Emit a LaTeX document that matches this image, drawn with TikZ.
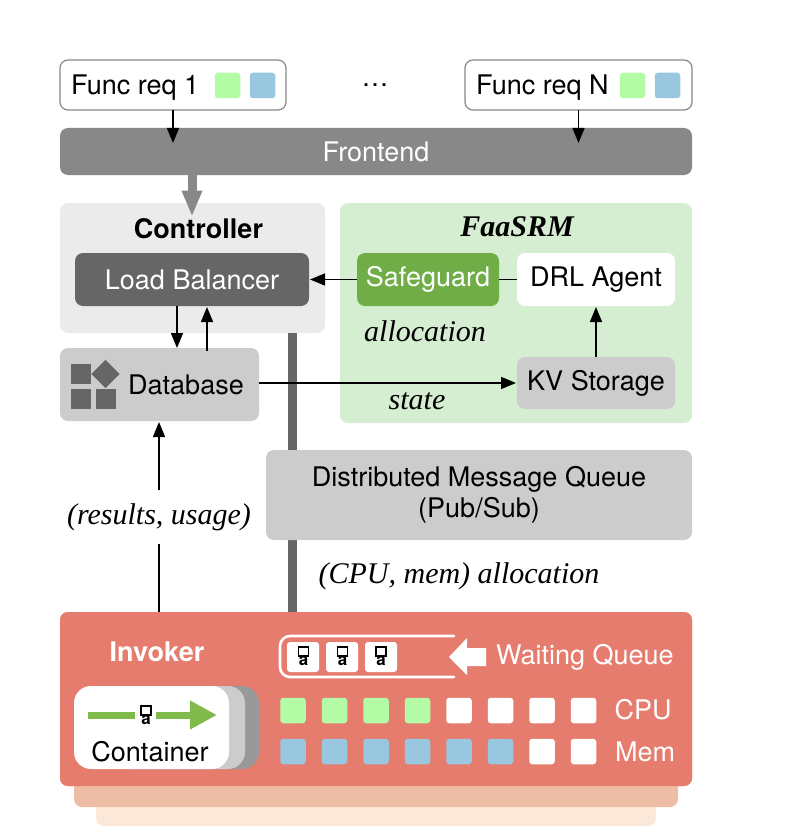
\documentclass[tikz,border=0pt]{standalone}
\usepackage{fontspec}
\setmainfont{TeX Gyre Heros}
\newfontfamily\timesfam{Liberation Serif}
\usetikzlibrary{arrows.meta,calc}
\definecolor{cFront}{HTML}{888888}
\definecolor{cDark}{HTML}{666666}
\definecolor{cGrey}{HTML}{CCCCCC}
\definecolor{cCtrl}{HTML}{EBEBEB}
\definecolor{cFaas}{HTML}{D5EDD0}
\definecolor{cSafe}{HTML}{70AD47}
\definecolor{cInv}{HTML}{E57C6E}
\definecolor{cLayA}{HTML}{EEBDA6}
\definecolor{cLayB}{HTML}{FBE8D8}
\definecolor{cGreen}{HTML}{B3FCA5}
\definecolor{cBlue}{HTML}{9AC7E0}
\definecolor{cArrowG}{HTML}{7FBA4A}
\definecolor{cEdge}{HTML}{888888}
\tikzset{
  plate/.style={inner sep=0pt,outer sep=0pt,rounded corners=8pt,font=\fontsize{27}{32}\selectfont,align=center},
  cell/.style={inner sep=0pt,outer sep=0pt,rounded corners=3pt,minimum width=25.5pt,minimum height=25.5pt},
  sans/.style={inner sep=0pt,font=\fontsize{27}{32}\selectfont,align=center},
  ital/.style={inner sep=0pt,font=\fontsize{30}{34}\selectfont\timesfam\itshape},
  thin arrow/.style={line width=1.5pt,-{Triangle[length=15pt,width=12pt]},shorten >=1pt},
  thin line/.style={line width=1.5pt},
}
% \plate{name}{x1}{y1}{x2}{y2}{style}{text}
\newcommand{\plate}[7]{%
  \pgfmathsetmacro{\cxv}{(#2+#4)/2}\pgfmathsetmacro{\cyv}{(#3+#5)/2}%
  \pgfmathsetmacro{\wv}{#4-#2}\pgfmathsetmacro{\hv}{#5-#3}%
  \node[plate,minimum width=\wv pt,minimum height=\hv pt,#6] (#1) at (\cxv,\cyv) {#7};}
% glyph used for a queued function
\newcommand{\fnglyph}[3]{%
  \node[draw=black,line width=1.4pt,inner sep=0pt,outer sep=0pt,minimum width=10pt,minimum height=9pt] (#3t) at (#1,#2-5.5) {};
  \node[inner sep=0pt,font=\bfseries\fontsize{17}{17}\selectfont] (#3a) at (#1,#2+3.5) {a};}
\begin{document}
\begin{tikzpicture}[x=1pt,y=-1pt]
\useasboundingbox (0,0) rectangle (810,840);
% top row
\plate{reqa}{60}{60}{286}{110}{draw=cEdge,line width=1.2pt,fill=white}{}
\node[sans,anchor=west] (reqat) at (71,88) {Func req 1};
\node[cell,fill=cGreen] (reqag) at (227.5,85.5) {};
\node[cell,fill=cBlue] (reqab) at (262.5,85.5) {};
\plate{reqn}{465}{60}{692}{110}{draw=cEdge,line width=1.2pt,fill=white}{}
\node[sans,anchor=west] (reqnt) at (476,88) {Func req N};
\node[cell,fill=cGreen] (reqng) at (632.5,85.5) {};
\node[cell,fill=cBlue] (reqnb) at (667.5,85.5) {};
\node[sans] (dots) at (375,85) {\ldots};
\plate{front}{60}{128}{692}{175}{fill=cFront,text=white}{Frontend}
\draw[thin arrow] (reqa.south) -- ++(0,34);
\draw[thin arrow] (reqn.south) -- ++(0,34);
% controller
\plate{ctrl}{60}{203}{325}{333}{fill=cCtrl}{}
\node[sans,font=\bfseries\fontsize{27}{32}\selectfont] (ctrlt) at (198.5,229) {Controller};
\plate{lb}{75}{253}{309}{306}{fill=cDark,text=white}{Load Balancer}
\draw[line width=9pt,cFront,-{Triangle[length=26pt,width=19pt]}] (front.south -| 192,0) -- (192,216.5);
% FaaSRM
\plate{faas}{340}{203}{692}{423}{fill=cFaas}{}
\node[ital,font=\fontsize{30}{34}\selectfont\timesfam\bfseries\itshape] (faast) at (517,227) {FaaSRM};
\plate{safe}{357}{253}{499}{306}{fill=cSafe,text=white}{Safeguard}
\plate{drl}{517}{253}{675}{306}{fill=white}{DRL Agent}
\plate{kv}{517}{357}{675}{409}{fill=cGrey}{KV Storage}
% database
\plate{db}{60}{348}{259}{421}{fill=cGrey}{}
\node[sans] (dbt) at (186,385) {Database};
\node[inner sep=0pt,fill=cDark,minimum size=20pt] (dba) at (81,373.5) {};
\node[inner sep=0pt,fill=cDark,minimum size=20pt] (dbb) at (81,399) {};
\node[inner sep=0pt,fill=cDark,minimum size=20pt] (dbc) at (106,399) {};
\node[inner sep=0pt,fill=cDark,minimum size=20pt,rotate=45] (dbd) at (105.5,374) {};
% thick down arrow passes behind the queue
\node[inner sep=0pt] (thk) at (292,333) {};
\plate{inv}{60}{612}{692}{786}{fill=cInv}{}
\draw[line width=9pt,cDark,-{Triangle[length=25pt,width=19pt]}] (thk.center) -- (inv.north -| thk) -- ++(0,-2);
\plate{mq}{266}{450}{692}{540}{fill=cGrey}{Distributed Message Queue\\[-1pt](Pub/Sub)}
% black arrows
\draw[thin arrow] ([xshift=-15pt]lb.south) -- (lb.south -| 177,0) -- (177,349);
\draw[thin arrow] (207,351) -- (lb.south -| 207,0);
\draw[thin arrow] (safe.west) -- (lb.east);
\draw[thin line] (drl.west) -- (safe.east);
\draw[thin arrow] (kv.north) -- (drl.south);
\draw[thin arrow] (db.east |- kv.west) -- (kv.west);
\node[ital] (alloc) at (425,331) {allocation};
\node[ital] (st) at (417,401) {state};
\node[ital] (cpu) at (459,576) {(CPU, mem) allocation};
\node[ital,minimum height=53pt] (res) at (159,517) {(results, usage)};
\draw[thin line] (inv.north -| res) -- (res.south);
\draw[thin arrow] (res.north) -- (db.south -| res);
% lower layers
\plate{layb}{96}{790}{656}{826}{fill=cLayB}{}
\plate{laya}{74}{770}{678}{807}{fill=cLayA}{}
\plate{inv2}{60}{612}{692}{786}{fill=cInv}{}
\node[sans,font=\bfseries\fontsize{27}{32}\selectfont,text=white] (invt) at (157,652) {Invoker};
% container
\plate{cnc}{120}{686}{259}{769}{fill=black!40,rounded corners=17pt}{}
\plate{cnb}{110}{686}{245}{769}{fill=cGrey,rounded corners=17pt}{}
\plate{cna}{74}{686}{229}{769}{fill=white,rounded corners=17pt}{}
\node[sans] (cnt) at (150,752) {Container};
\fnglyph{146}{716}{cg}
\draw[cArrowG,line width=7pt] (88,715) -- (135,715);
\draw[cArrowG,line width=7pt,-{Triangle[length=27pt,width=27pt]}] (156,715) -- (217,715);
% waiting queue
\draw[white,line width=2.6pt,line cap=round,rounded corners=10pt] (454,636) -- (280,636) -- (280,677) -- (454,677);
\node[cell,fill=white,minimum width=32pt,minimum height=30pt] (qa) at (303,657) {};
\node[cell,fill=white,minimum width=32pt,minimum height=30pt] (qb) at (342,657) {};
\node[cell,fill=white,minimum width=32pt,minimum height=30pt] (qc) at (381,657) {};
\fnglyph{303.5}{657}{qag}
\fnglyph{342.5}{657}{qbg}
\fnglyph{381}{657}{qcg}
\fill[white] (449,657) -- (467,638) -- (467,648) -- (486,648) -- (486,666) -- (467,666) -- (467,675) -- cycle;
\node[sans,text=white,anchor=west] (wq) at (496,657) {Waiting Queue};
% resource cells
\foreach \n/\x/\c in {1/293/cGreen,2/334.5/cGreen,3/376/cGreen,4/417.5/cGreen,5/459/white,6/500.5/white,7/542/white,8/583.5/white}
  \node[cell,fill=\c] (cpu\n) at (\x,710.5) {};
\foreach \n/\x/\c in {1/293/cBlue,2/334.5/cBlue,3/376/cBlue,4/417.5/cBlue,5/459/cBlue,6/500.5/cBlue,7/542/white,8/583.5/white}
  \node[cell,fill=\c] (mem\n) at (\x,751.5) {};
\node[sans,text=white] (cpul) at (643,710) {CPU};
\node[sans,text=white] (meml) at (645,752) {Mem};
\end{tikzpicture}
\end{document}
